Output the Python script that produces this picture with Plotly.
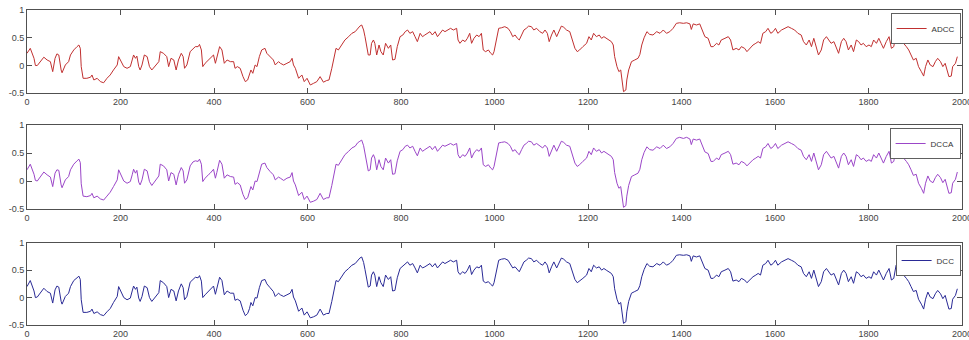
import plotly.graph_objects as go

t = [0,7,15,18,22,29,32,36,43,50,55,60,64,68,73,75,82,89,93,100,107,111,114,116,120,128,136,139,143,150,157,164,171,178,185,193,196,200,207,214,221,225,228,232,235,239,242,246,251,257,262,267,275,282,285,292,299,303,308,314,319,324,330,334,337,342,349,355,360,366,369,373,376,381,389,392,399,403,406,412,417,422,428,435,442,445,450,456,462,467,472,476,479,483,488,492,497,502,509,513,520,527,531,538,542,549,556,563,567,570,574,581,588,593,599,606,613,620,627,634,641,646,652,657,661,666,673,680,688,695,702,707,712,716,720,723,727,730,734,737,741,744,748,753,757,762,767,773,778,782,787,792,798,804,809,814,819,825,830,835,841,846,851,856,862,867,873,878,883,889,894,900,906,912,919,922,926,932,937,942,947,951,956,962,967,972,976,981,987,992,996,999,1004,1009,1015,1022,1029,1034,1039,1044,1049,1053,1058,1063,1068,1073,1079,1084,1090,1097,1103,1108,1113,1117,1122,1127,1133,1138,1143,1148,1154,1161,1167,1172,1177,1182,1189,1197,1202,1207,1212,1218,1224,1229,1234,1239,1245,1250,1254,1257,1262,1266,1270,1273,1276,1281,1283,1287,1293,1300,1307,1311,1315,1320,1326,1332,1339,1347,1354,1361,1368,1375,1382,1389,1396,1404,1411,1418,1421,1425,1432,1439,1444,1450,1457,1463,1468,1475,1480,1485,1493,1500,1505,1510,1517,1523,1528,1535,1540,1546,1553,1559,1564,1569,1574,1580,1585,1591,1596,1601,1606,1614,1621,1628,1635,1642,1649,1656,1661,1667,1673,1678,1683,1688,1693,1699,1704,1710,1715,1720,1726,1731,1736,1742,1747,1752,1757,1763,1768,1774,1779,1784,1789,1795,1801,1806,1811,1817,1822,1827,1832,1838,1844,1849,1854,1859,1865,1870,1875,1881,1886,1891,1896,1902,1907,1913,1918,1922,1927,1932,1938,1943,1948,1954,1959,1964,1967,1972,1977,1980,1986,1990]

adcc = [0.22,0.31,0.13,0.0,0.0,0.07,0.11,0.15,0.1,0.07,-0.11,0.13,0.21,0.19,-0.08,-0.13,0.01,0.07,0.19,0.28,0.34,0.37,0.31,-0.02,-0.23,-0.23,-0.21,-0.17,-0.26,-0.23,-0.29,-0.31,-0.23,-0.17,-0.08,0.01,0.16,0.1,-0.02,-0.05,-0.02,0.1,0.19,0.13,0.17,-0.02,-0.08,0.01,0.19,0.16,-0.02,-0.08,0.01,0.07,0.25,0.22,0.16,-0.02,0.13,0.1,-0.08,0.1,0.22,0.16,-0.05,0.01,0.25,0.31,0.34,0.34,0.38,0.28,-0.02,0.04,0.1,0.13,0.19,0.04,0.13,0.34,0.28,0.04,0.1,0.07,0.07,-0.05,-0.02,-0.05,-0.2,-0.29,-0.26,-0.17,-0.08,-0.14,0.01,-0.02,0.16,0.28,0.31,0.22,0.16,0.1,0.01,0.07,0.04,0.01,0.04,0.07,0.13,0.01,-0.05,-0.23,-0.17,-0.29,-0.23,-0.35,-0.32,-0.29,-0.2,-0.3,-0.27,-0.26,-0.05,0.13,0.31,0.28,0.37,0.46,0.52,0.58,0.61,0.67,0.71,0.73,0.64,0.52,0.34,0.19,0.19,0.4,0.46,0.4,0.19,0.37,0.25,0.19,0.4,0.31,0.37,0.1,0.11,0.34,0.52,0.55,0.61,0.64,0.58,0.61,0.52,0.43,0.58,0.52,0.55,0.58,0.61,0.55,0.61,0.52,0.58,0.64,0.61,0.64,0.67,0.64,0.67,0.46,0.4,0.46,0.43,0.49,0.58,0.4,0.49,0.55,0.52,0.58,0.28,0.25,0.28,0.22,0.19,0.25,0.46,0.67,0.68,0.7,0.67,0.61,0.52,0.55,0.49,0.46,0.55,0.64,0.67,0.71,0.7,0.64,0.67,0.61,0.58,0.64,0.58,0.43,0.55,0.64,0.52,0.61,0.71,0.69,0.64,0.61,0.43,0.31,0.25,0.28,0.34,0.4,0.52,0.46,0.58,0.52,0.55,0.49,0.52,0.49,0.46,0.43,0.37,0.16,-0.02,-0.11,-0.08,-0.32,-0.47,-0.44,-0.26,-0.08,0.07,0.1,0.13,0.2,0.37,0.5,0.61,0.56,0.55,0.61,0.58,0.64,0.58,0.61,0.67,0.76,0.77,0.76,0.77,0.75,0.65,0.75,0.73,0.75,0.64,0.52,0.49,0.34,0.34,0.4,0.37,0.46,0.49,0.52,0.46,0.28,0.31,0.28,0.34,0.31,0.25,0.31,0.37,0.4,0.43,0.4,0.58,0.61,0.67,0.58,0.61,0.67,0.58,0.64,0.67,0.7,0.67,0.64,0.58,0.55,0.43,0.37,0.46,0.34,0.49,0.34,0.19,0.28,0.46,0.52,0.46,0.4,0.43,0.34,0.22,0.43,0.49,0.43,0.28,0.37,0.25,0.46,0.43,0.37,0.4,0.34,0.37,0.34,0.46,0.4,0.49,0.4,0.31,0.43,0.52,0.31,0.34,0.58,0.52,0.43,0.4,0.34,0.28,0.19,0.1,0.13,-0.02,-0.11,-0.19,-0.02,0.1,0.01,-0.02,0.07,0.13,0.07,-0.02,0.04,-0.05,-0.2,-0.19,-0.02,0.04,0.16]

dcca = [0.2,0.3,0.12,0.01,0.0,0.08,0.12,0.16,0.11,0.07,-0.1,0.14,0.2,0.19,-0.07,-0.12,0.02,0.08,0.2,0.3,0.36,0.39,0.33,-0.05,-0.27,-0.28,-0.26,-0.22,-0.3,-0.27,-0.32,-0.34,-0.27,-0.2,-0.1,0.02,0.2,0.13,0.0,-0.04,-0.01,0.11,0.21,0.14,0.19,-0.02,-0.07,0.02,0.21,0.18,-0.01,-0.08,0.02,0.09,0.3,0.27,0.2,0.0,0.15,0.12,-0.07,0.12,0.24,0.18,-0.04,0.02,0.27,0.34,0.36,0.35,0.39,0.3,-0.01,0.05,0.12,0.14,0.21,0.05,0.15,0.37,0.3,0.05,0.11,0.08,0.07,-0.06,-0.03,-0.07,-0.24,-0.33,-0.3,-0.2,-0.1,-0.16,0.0,-0.01,0.17,0.3,0.32,0.24,0.17,0.11,0.02,0.07,0.05,0.01,0.05,0.07,0.15,0.0,-0.07,-0.26,-0.2,-0.33,-0.27,-0.38,-0.36,-0.33,-0.22,-0.33,-0.3,-0.3,-0.08,0.12,0.3,0.28,0.38,0.47,0.53,0.59,0.62,0.68,0.71,0.73,0.63,0.5,0.32,0.18,0.2,0.41,0.47,0.41,0.2,0.38,0.26,0.2,0.41,0.32,0.38,0.12,0.13,0.36,0.53,0.56,0.62,0.64,0.59,0.62,0.53,0.45,0.59,0.53,0.56,0.59,0.62,0.56,0.62,0.53,0.59,0.64,0.62,0.64,0.67,0.64,0.67,0.47,0.41,0.47,0.44,0.5,0.59,0.41,0.5,0.56,0.53,0.59,0.29,0.26,0.29,0.23,0.2,0.26,0.47,0.68,0.69,0.7,0.67,0.62,0.53,0.56,0.5,0.47,0.56,0.64,0.67,0.71,0.7,0.64,0.67,0.62,0.59,0.64,0.59,0.44,0.56,0.64,0.53,0.62,0.71,0.69,0.64,0.62,0.44,0.32,0.26,0.29,0.35,0.41,0.53,0.47,0.59,0.53,0.56,0.5,0.53,0.5,0.47,0.44,0.38,0.15,-0.04,-0.13,-0.1,-0.34,-0.47,-0.44,-0.27,-0.08,0.08,0.11,0.14,0.21,0.38,0.51,0.61,0.56,0.55,0.61,0.58,0.64,0.58,0.61,0.67,0.76,0.78,0.76,0.78,0.75,0.65,0.75,0.73,0.75,0.64,0.52,0.49,0.35,0.35,0.41,0.38,0.47,0.5,0.53,0.47,0.3,0.32,0.29,0.35,0.32,0.27,0.32,0.38,0.41,0.44,0.41,0.58,0.61,0.67,0.58,0.61,0.67,0.58,0.64,0.67,0.7,0.67,0.64,0.58,0.55,0.44,0.38,0.47,0.35,0.5,0.35,0.2,0.29,0.47,0.53,0.47,0.41,0.44,0.35,0.23,0.44,0.5,0.44,0.29,0.38,0.26,0.47,0.44,0.38,0.41,0.35,0.38,0.35,0.47,0.41,0.5,0.41,0.32,0.44,0.53,0.32,0.35,0.58,0.52,0.44,0.41,0.35,0.29,0.2,0.1,0.12,-0.04,-0.13,-0.22,-0.04,0.09,0.0,-0.03,0.06,0.12,0.06,-0.03,0.03,-0.07,-0.22,-0.21,-0.04,0.03,0.16]

dcc = [0.2,0.31,0.12,0.0,0.01,0.08,0.12,0.17,0.11,0.08,-0.1,0.14,0.21,0.19,-0.07,-0.12,0.02,0.08,0.2,0.31,0.36,0.39,0.33,-0.04,-0.27,-0.27,-0.25,-0.21,-0.29,-0.26,-0.31,-0.33,-0.26,-0.2,-0.09,0.02,0.2,0.13,0.0,-0.04,-0.01,0.12,0.21,0.15,0.19,-0.01,-0.07,0.02,0.21,0.18,0.0,-0.07,0.02,0.09,0.31,0.27,0.2,0.0,0.15,0.12,-0.06,0.12,0.25,0.18,-0.04,0.02,0.28,0.34,0.37,0.36,0.4,0.3,0.0,0.05,0.12,0.15,0.21,0.06,0.15,0.37,0.31,0.05,0.12,0.08,0.08,-0.05,-0.03,-0.06,-0.23,-0.33,-0.29,-0.2,-0.09,-0.15,0.0,-0.01,0.18,0.31,0.33,0.25,0.18,0.11,0.02,0.08,0.05,0.02,0.05,0.08,0.15,0.01,-0.06,-0.25,-0.19,-0.32,-0.26,-0.37,-0.35,-0.32,-0.21,-0.32,-0.29,-0.29,-0.07,0.13,0.31,0.29,0.38,0.47,0.53,0.59,0.62,0.68,0.72,0.74,0.64,0.51,0.33,0.19,0.21,0.41,0.47,0.41,0.2,0.38,0.27,0.2,0.41,0.33,0.38,0.12,0.13,0.36,0.53,0.57,0.62,0.65,0.59,0.62,0.54,0.45,0.59,0.54,0.56,0.59,0.62,0.56,0.62,0.54,0.59,0.65,0.62,0.65,0.68,0.65,0.68,0.47,0.42,0.47,0.44,0.5,0.59,0.42,0.5,0.56,0.54,0.59,0.3,0.27,0.29,0.24,0.21,0.27,0.47,0.68,0.7,0.71,0.68,0.62,0.54,0.56,0.5,0.47,0.56,0.65,0.68,0.72,0.71,0.65,0.68,0.62,0.59,0.65,0.59,0.45,0.56,0.65,0.54,0.62,0.72,0.7,0.65,0.62,0.45,0.33,0.27,0.3,0.35,0.41,0.53,0.47,0.59,0.54,0.56,0.5,0.53,0.5,0.47,0.44,0.38,0.16,-0.03,-0.12,-0.09,-0.33,-0.47,-0.44,-0.26,-0.07,0.08,0.11,0.14,0.22,0.38,0.51,0.62,0.57,0.56,0.62,0.59,0.65,0.59,0.62,0.68,0.77,0.78,0.77,0.78,0.76,0.66,0.76,0.74,0.76,0.65,0.53,0.5,0.35,0.35,0.41,0.38,0.47,0.5,0.53,0.47,0.3,0.32,0.29,0.35,0.32,0.27,0.32,0.38,0.41,0.44,0.41,0.59,0.62,0.68,0.59,0.62,0.68,0.59,0.65,0.68,0.71,0.68,0.65,0.59,0.56,0.44,0.38,0.47,0.35,0.5,0.35,0.2,0.29,0.47,0.53,0.47,0.41,0.44,0.35,0.23,0.44,0.5,0.44,0.29,0.38,0.26,0.47,0.44,0.38,0.41,0.35,0.38,0.35,0.47,0.41,0.5,0.41,0.32,0.44,0.53,0.32,0.35,0.59,0.53,0.44,0.41,0.35,0.29,0.2,0.11,0.13,-0.03,-0.12,-0.21,-0.03,0.1,0.01,-0.02,0.07,0.13,0.07,-0.02,0.04,-0.06,-0.21,-0.2,-0.03,0.04,0.16]

names = ["ADCC", "DCCA", "DCC"]
colors = ["#c03030", "#9b46c8", "#2a2a96"]
series = [adcc, dcca, dcc]

x_ticks = [0, 200, 400, 600, 800, 1000, 1200, 1400, 1600, 1800, 2000]
y_ticks = [-0.5, 0, 0.5, 1]
y_tick_text = ["-0.5", "0", "0.5", "1"]

W, H = 969, 340
ml, mr, mt, mb = 26.5, 7, 10, 15
ph = H - mt - mb
panels_px = [(10, 93.3), (125, 209), (242.7, 325)]   # pixel rows of each panel
legend_top_px = [13, 128, 245]

def pf(y):
    return 1 - (y - mt) / ph

fig = go.Figure()
axis_style = dict(
    showline=True, linecolor="#505050", linewidth=1, mirror="ticks",
    ticks="inside", ticklen=5, tickcolor="#505050", showgrid=False, zeroline=False,
    tickfont=dict(family="Liberation Sans, Arial, sans-serif", size=9, color="#444444"),
    ticklabeloverflow="allow",
)
for i, (nm, col, ys) in enumerate(zip(names, colors, series)):
    k = "" if i == 0 else str(i + 1)
    lg = "legend" if i == 0 else "legend" + str(i + 1)
    fig.add_trace(go.Scatter(x=t, y=ys, mode="lines", name=nm,
                             line=dict(color=col, width=1),
                             xaxis="x" + k, yaxis="y" + k, legend=lg))
    top, bot = panels_px[i]
    fig.layout["xaxis" + k] = dict(axis_style, domain=[0, 1], range=[0, 2000],
                                   tickvals=x_ticks, anchor="y" + k)
    fig.layout["yaxis" + k] = dict(axis_style, domain=[pf(bot), pf(top)], range=[-0.5, 1],
                                   tickvals=y_ticks, ticktext=y_tick_text, anchor="x" + k)
    fig.layout[lg] = dict(x=0.9985, y=pf(legend_top_px[i]), xanchor="right", yanchor="top",
                          bgcolor="white", bordercolor="#606060", borderwidth=1,
                          font=dict(family="Liberation Sans, Arial, sans-serif", size=8, color="#333333"),
                          itemwidth=30, tracegroupgap=0)

fig.update_layout(width=W, height=H, margin=dict(l=ml, r=mr, t=mt, b=mb, autoexpand=False),
                  paper_bgcolor="white", plot_bgcolor="white", showlegend=True)

fig.write_html("out.html", config={"displayModeBar": False},
               post_script="document.body.style.margin='0px';document.body.style.overflow='hidden';")
